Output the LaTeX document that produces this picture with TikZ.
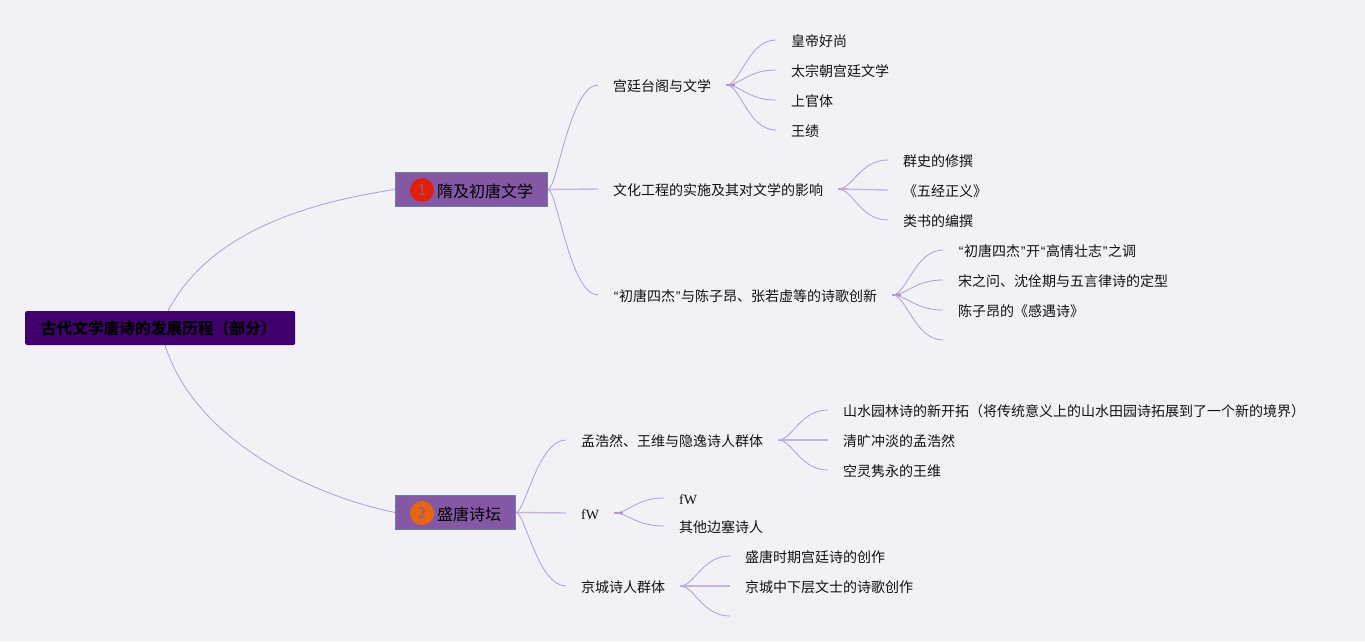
\documentclass[tikz,border=0pt]{standalone}
\usepackage{fontspec}
\setmainfont{Noto Sans CJK SC}
\newfontfamily\quotefont{Liberation Sans}
\newfontfamily\latinfont{Liberation Serif}
\newcommand{\qt}[1]{\makebox[6pt]{\quotefont #1}}
\usepackage{tikz}
\usetikzlibrary{positioning}
\definecolor{pagegray}{HTML}{F2F1F6}
\definecolor{rootpurple}{HTML}{40006E}
\definecolor{boxpurple}{HTML}{8558A5}
\definecolor{boxedge}{HTML}{6A7F98}
\definecolor{linepurple}{HTML}{B29DD2}
\definecolor{straightpurple}{HTML}{C6B6DF}
\definecolor{hubpurple}{HTML}{B48FD6}
\definecolor{inktext}{HTML}{111111}
\definecolor{badgered}{HTML}{E0200F}
\definecolor{badgeorange}{HTML}{E8650F}
\tikzstyle{root} = [rectangle, rounded corners=2pt, fill=rootpurple, anchor=west, minimum width=270pt, minimum height=34pt,
                    inner sep=0, font=\fontsize{15.7}{16}\selectfont\bfseries, text=black]
\tikzstyle{topic} = [rectangle, fill=boxpurple, draw=boxedge, line width=1pt, anchor=west, minimum height=34pt,
                     inner sep=0]
\tikzstyle{topictext} = [anchor=west, inner sep=0, font=\fontsize{16}{16}\selectfont, text=black]
\tikzstyle{badge} = [circle, minimum size=24pt, inner sep=0, font=\fontsize{15}{15}\selectfont]
\tikzstyle{item} = [anchor=west, inner xsep=15pt, inner ysep=0, text height=14.5pt, text depth=2.5pt,
                    font=\fontsize{14}{14}\selectfont, text=inktext]
\tikzstyle{branch} = [draw=linepurple, line width=0.8pt]
\tikzstyle{straight} = [draw=straightpurple, line width=1.4pt]
\tikzstyle{hub} = [draw=hubpurple, line width=1.6pt]
\tikzstyle{sweep} = [branch, to path={.. controls +(9, 0) and +(-28, 0) .. (\tikztotarget)}]
\tikzstyle{fan} = [branch, to path={.. controls +(14, 0) and +(-28, 0) .. (\tikztotarget)}]

\begin{document}
\begin{tikzpicture}[x=1pt, y=-1pt]
	\useasboundingbox (0, 0) rectangle (1365, 641);
	\fill [pagegray] (0, 0) rectangle (1365, 641);

	\node (Root) [root] at (25, 328) {\hspace*{-3pt}古代文学唐诗的发展历程（部分）};
	\coordinate (RootUp) at (168, 311);
	\coordinate (RootDown) at (165, 345);

	% first topic
	\node (Sui) [topic, minimum width=152pt] at (395, 189.5) {};
	\node (SuiBadge) [badge, fill=badgered, text=red!30!gray] at (422, 190) {1};
	\node (SuiText) [topictext] at (437, 191) {隋及初唐文学};
	\draw [branch] (RootUp) .. controls (205, 240) and (290, 205) .. (Sui.west);

	\node (Court) [item] at (598, 85) {宫廷台阁与文学};
	\node (Culture) [item] at (598, 189) {文化工程的实施及其对文学的影响};
	\node (Poets) [item] at (598, 295) {\qt{“}初唐四杰\qt{”}与陈子昂、张若虚等的诗歌创新};
	\draw [sweep] (Sui.east) to (Court.west);
	\draw [straight] (Sui.east) -- (Culture.west);
	\draw [sweep] (Sui.east) to (Poets.west);

	% court literature
	\node (CourtA) [item] at (776, 40) {皇帝好尚};
	\node (CourtB) [item] at (776, 70) {太宗朝宫廷文学};
	\node (CourtC) [item] at (776, 100) {上官体};
	\node (CourtD) [item] at (776, 130) {王绩};
	\draw [hub] (Court.east) -- ++(9, 0);
	\draw [fan] (Court.east) to (CourtA.west);
	\draw [fan] (Court.east) to (CourtB.west);
	\draw [fan] (Court.east) to (CourtC.west);
	\draw [fan] (Court.east) to (CourtD.west);

	% cultural projects
	\node (CultureA) [item] at (888, 160) {群史的修撰};
	\node (CultureB) [item] at (888, 190) {《五经正义》};
	\node (CultureC) [item] at (888, 220) {类书的编撰};
	\draw [hub] (Culture.east) -- ++(9, 0);
	\draw [fan] (Culture.east) to (CultureA.west);
	\draw [straight] (Culture.east) -- (CultureB.west);
	\draw [fan] (Culture.east) to (CultureC.west);

	% four masters
	\node (PoetsA) [item] at (943, 250) {\qt{“}初唐四杰\qt{”}开\qt{“}高情壮志\qt{”}之调};
	\node (PoetsB) [item] at (943, 280) {宋之问、沈佺期与五言律诗的定型};
	\node (PoetsC) [item] at (943, 310) {陈子昂的《感遇诗》};
	\coordinate (PoetsD) at (943, 340);
	\draw [hub] (Poets.east) -- ++(9, 0);
	\draw [fan] (Poets.east) to (PoetsA.west);
	\draw [fan] (Poets.east) to (PoetsB.west);
	\draw [fan] (Poets.east) to (PoetsC.west);
	\draw [fan] (Poets.east) to (PoetsD);

	% second topic
	\node (Tang) [topic, minimum width=120pt] at (395, 512.5) {};
	\node (TangBadge) [badge, fill=badgeorange, text=boxpurple] at (422, 513) {2};
	\node (TangText) [topictext] at (437, 514) {盛唐诗坛};
	\draw [branch] (RootDown) .. controls (195, 440) and (310, 495) .. (Tang.west);

	\node (Recluse) [item] at (566, 440) {孟浩然、王维与隐逸诗人群体};
	\node (Frontier) [item] at (566, 513) {\latinfont fW};
	\node (Capital) [item] at (566, 586) {京城诗人群体};
	\draw [sweep] (Tang.east) to (Recluse.west);
	\draw [straight] (Tang.east) -- (Frontier.west);
	\draw [sweep] (Tang.east) to (Capital.west);

	% recluse poets
	\node (RecluseA) [item] at (828, 410) {山水园林诗的新开拓（将传统意义上的山水田园诗拓展到了一个新的境界）};
	\node (RecluseB) [item] at (828, 440) {清旷冲淡的孟浩然};
	\node (RecluseC) [item] at (828, 470) {空灵隽永的王维};
	\draw [hub] (Recluse.east) -- ++(9, 0);
	\draw [fan] (Recluse.east) to (RecluseA.west);
	\draw [straight] (Recluse.east) -- (RecluseB.west);
	\draw [fan] (Recluse.east) to (RecluseC.west);

	% frontier poets
	\node (FrontierA) [item] at (664, 498) {\latinfont fW};
	\node (FrontierB) [item] at (664, 526) {其他边塞诗人};
	\draw [hub] (Frontier.east) -- ++(9, 0);
	\draw [fan] (Frontier.east) to (FrontierA.west);
	\draw [fan] (Frontier.east) to (FrontierB.west);

	% capital poets
	\node (CapitalA) [item] at (730, 556) {盛唐时期宫廷诗的创作};
	\node (CapitalB) [item] at (730, 586) {京城中下层文士的诗歌创作};
	\coordinate (CapitalC) at (730, 616);
	\draw [hub] (Capital.east) -- ++(9, 0);
	\draw [fan] (Capital.east) to (CapitalA.west);
	\draw [straight] (Capital.east) -- (CapitalB.west);
	\draw [fan] (Capital.east) to (CapitalC);
\end{tikzpicture}
\end{document}
